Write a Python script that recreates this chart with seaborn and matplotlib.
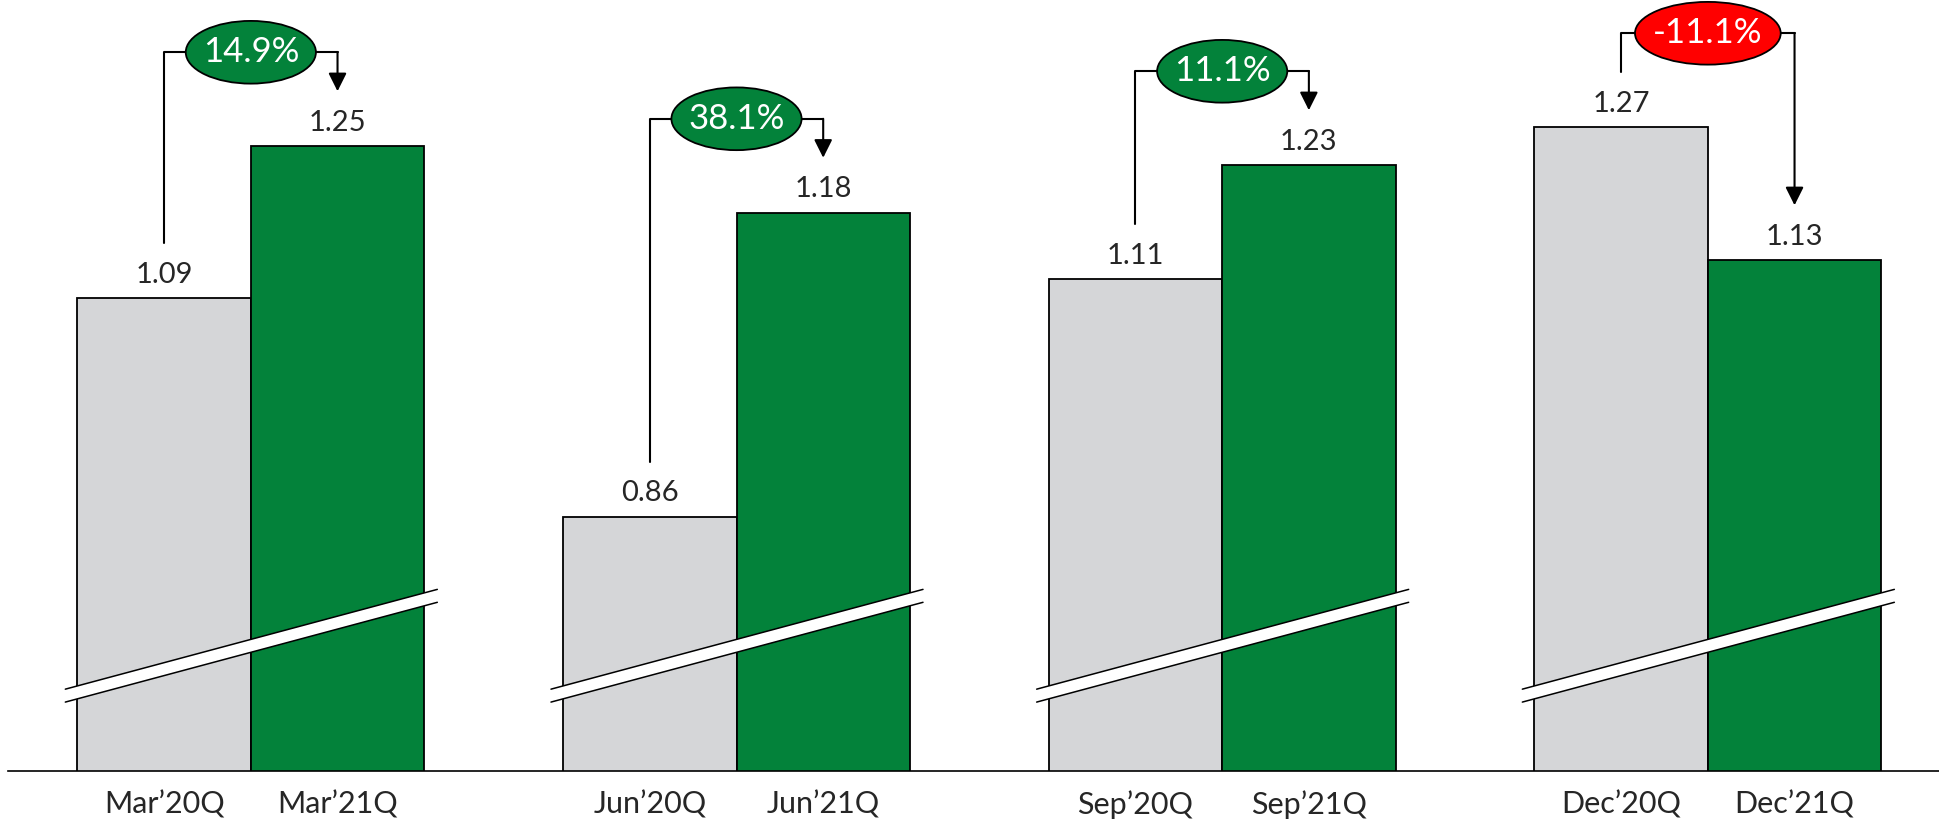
import matplotlib
matplotlib.use('Agg')
import matplotlib.pyplot as plt
from matplotlib.patches import Ellipse
import seaborn as sns
import pandas as pd
import numpy as np

# data
quarters = ['Mar', 'Jun', 'Sep', 'Dec']
years = ['20Q', '21Q']
values_20 = [1.09, 0.86, 1.11, 1.27]
values_21 = [1.25, 1.18, 1.23, 1.13]
growth = ['14.9%', '38.1%', '11.1%', '-11.1%']

GREY = '#D5D6D8'
GREEN = '#03823A'
RED = '#FF0000'

sns.set_style('white')
plt.rcParams['font.family'] = ['Lato', 'DejaVu Sans']

df = pd.DataFrame({
    'quarter': quarters * 2,
    'year': [years[0]] * 4 + [years[1]] * 4,
    'value': values_20 + values_21,
})

fig = plt.figure(figsize=(19.4, 8.22), dpi=100)
ax = fig.add_axes([8 / 1940, 51.3 / 822, 1 - 8 / 1940, 770.7 / 822])

sns.barplot(data=df, x='quarter', y='value', hue='year', order=quarters,
            palette=[GREY, GREEN], saturation=1, width=0.714, edgecolor='black',
            linewidth=1.3, legend=False, ax=ax)

# broken axis: values start around 0.593
ax.set_ylim(0.593, 1.404)
ax.set_xlim(-0.5, 3.478)
for s in ['top', 'right', 'left']:
    ax.spines[s].set_visible(False)
ax.spines['bottom'].set_color('black')
ax.spines['bottom'].set_linewidth(1.2)
ax.set_yticks([])
ax.set_xlabel('')
ax.set_ylabel('')

bars = sorted(ax.patches, key=lambda p: p.get_x())
centers = [b.get_x() + b.get_width() / 2 for b in bars]
heights = [b.get_height() for b in bars]

labels = []
for q in quarters:
    for y in years:
        labels.append(q + '\u2019' + y)
ax.set_xticks(centers)
ax.set_xticklabels(labels, fontsize=22)
ax.tick_params(axis='x', length=0, pad=14)

for c, h in zip(centers, heights):
    ax.text(c, h + 0.025, f'{h:.2f}', ha='center', va='center', fontsize=21)

# growth ovals and connectors
for i, g in enumerate(growth):
    lx, rx = centers[2 * i], centers[2 * i + 1]
    lh, rh = heights[2 * i], heights[2 * i + 1]
    gx = (lx + rx) / 2
    oy = max(lh, rh) + 0.099
    w = 0.268 if len(g) < 6 else 0.30
    color = RED if g.startswith('-') else GREEN
    ax.plot([lx, lx, gx - w / 2], [lh + 0.058, oy, oy], color='black', lw=1.5, zorder=5)
    ax.plot([gx + w / 2, rx], [oy, oy], color='black', lw=1.5, zorder=5)
    ax.annotate('', xy=(rx, rh + 0.058), xytext=(rx, oy),
                arrowprops=dict(arrowstyle='-|>,head_length=1.1,head_width=0.55',
                                color='black', lw=1.5, shrinkA=0, shrinkB=0,
                                mutation_scale=10), zorder=5)
    ax.add_patch(Ellipse((gx, oy), w, 0.066, facecolor=color, edgecolor='black',
                         lw=1.3, zorder=6, clip_on=False))
    ax.text(gx, oy, g, ha='center', va='center', color='white', fontsize=25, zorder=7)

    # break marks
    x0, x1 = i - 0.382, i + 0.384
    yl, yr, t = 0.672, 0.777, 0.0068
    ax.fill([x0, x1, x1, x0], [yl - t, yr - t, yr + t, yl + t], color='white', zorder=4, lw=0)
    ax.plot([x0, x1], [yl - t, yr - t], color='black', lw=1.1, zorder=4)
    ax.plot([x0, x1], [yl + t, yr + t], color='black', lw=1.1, zorder=4)

fig.savefig('out.png', dpi=100)
